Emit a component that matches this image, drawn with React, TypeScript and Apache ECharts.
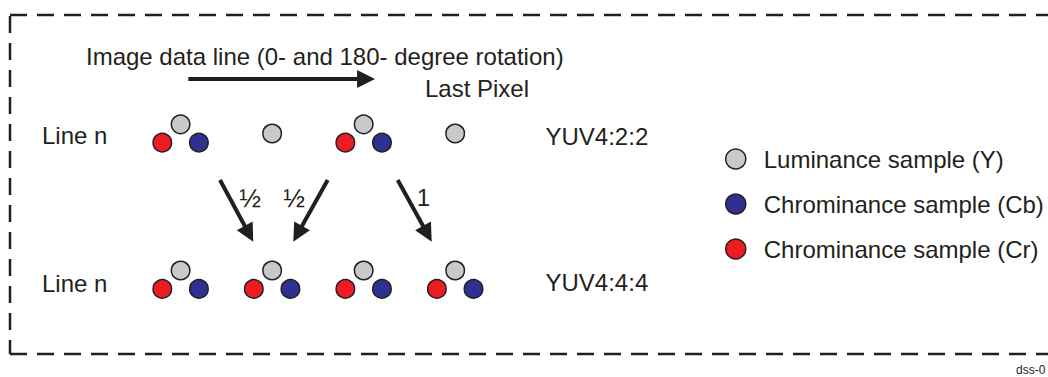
import React, { useEffect, useRef } from "react";
import * as echarts from "echarts";

// ---- data ----
const sampleCols = [0, 1, 2, 3];
const lineRows = [0, 1];
const lineLabels = ["Line n", "Line n"];
const formatLabels = ["YUV4:2:2", "YUV4:4:4"];
// which pixels carry a sample (row 0 = YUV4:2:2 line, row 1 = YUV4:4:4 line)
const lumaPresent = [
  [1, 1, 1, 1],
  [1, 1, 1, 1],
];
const chromaPresent = [
  [1, 0, 1, 0],
  [1, 1, 1, 1],
];
const seriesNames = [
  "Luminance sample (Y)",
  "Chrominance sample (Cb)",
  "Chrominance sample (Cr)",
];
const seriesColors = ["#c8c9cb", "#2e3192", "#ed1c24"];
// arrows in (pixel column, line) units
const arrowFrom = [
  [0.084, -0.373],
  [0.4305, 0.318],
  [1.607, 0.318],
  [2.372, 0.318],
];
const arrowTo = [
  [2.026, -0.373],
  [0.747, 0.686],
  [1.279, 0.686],
  [2.696, 0.686],
];
const weightLabels = ["½", "½", "1"];
const titleText = "Image data line (0- and 180- degree rotation)";
const lastPixelText = "Last Pixel";
const figureId = "dss-0";

const INK = "#231f20";
const FONT = "'Liberation Sans', Arial, Helvetica, sans-serif";

export default function App() {
  const ref = useRef<HTMLDivElement>(null);
  useEffect(() => {
    document.body.style.margin = "0";
    const chart = echarts.init(ref.current!, null, { renderer: "svg" });

    const colPx0 = 180.6;
    const colStep = 91.53;
    const rowPx0 = 133.5;
    const rowStep = 146.2;
    const W = 1048;
    const H = 377;

    const dx = 18.3;
    const dy = 9.2;

    const lumaData: any[] = [];
    const cbData: any[] = [];
    const crData: any[] = [];
    lineRows.forEach((r) => {
      sampleCols.forEach((c) => {
        const hasChroma = chromaPresent[r][c] === 1;
        if (lumaPresent[r][c] === 1) {
          lumaData.push({ value: [c, r], symbolOffset: hasChroma ? [0, -dy] : [0, 0] });
        }
        if (hasChroma) {
          cbData.push({ value: [c, r], symbolOffset: [dx, dy] });
          crData.push({ value: [c, r], symbolOffset: [-dx, dy] });
        }
      });
    });

    const scatterBase = {
      type: "scatter",
      symbol: "circle",
      symbolSize: 18.5,
      silent: true,
    };

    const texts: any[] = [];
    const addText = (
      text: string,
      x: number,
      y: number,
      size: number,
      align: string = "left"
    ) =>
      texts.push({
        type: "text",
        x,
        y,
        silent: true,
        style: {
          text,
          fill: INK,
          fontSize: size,
          fontFamily: FONT,
          align,
          verticalAlign: "middle",
        },
      });

    addText(titleText, 86, 56.5, 24);
    addText(lastPixelText, 425, 88.5, 24);
    lineRows.forEach((r) => {
      const y = r === 0 ? 135.5 : 283;
      addText(lineLabels[r], 42, y, 24);
      addText(formatLabels[r], 545.5, r === 0 ? 136.3 : 282.8, 24);
    });
    addText(weightLabels[0], 250, 197.5, 26, "center");
    addText(weightLabels[1], 294, 197.5, 26, "center");
    addText(weightLabels[2], 423.3, 197.5, 24, "center");
    addText(figureId, 1016, 369.5, 12);

    const dash = { stroke: INK, lineWidth: 2.5, lineDash: [17, 10], fill: "none" };
    const borders = [
      { type: "line", shape: { x1: 10, y1: 15, x2: W + 20, y2: 15 }, style: dash, silent: true },
      { type: "line", shape: { x1: 10, y1: 16, x2: 10, y2: 354 }, style: dash, silent: true },
      { type: "line", shape: { x1: 10, y1: 354, x2: W + 20, y2: 354 }, style: dash, silent: true },
    ];

    chart.setOption({
      animation: false,
      backgroundColor: "#ffffff",
      grid: { left: 0, right: 0, top: 0, bottom: 0 },
      xAxis: {
        type: "value",
        min: -colPx0 / colStep,
        max: (W - colPx0) / colStep,
        show: false,
      },
      yAxis: {
        type: "value",
        inverse: true,
        min: -rowPx0 / rowStep,
        max: (H - rowPx0) / rowStep,
        show: false,
      },
      legend: {
        orient: "vertical",
        left: 720,
        top: 142,
        itemWidth: 20,
        itemHeight: 20,
        itemGap: 21,
        icon: "circle",
        selectedMode: false,
        textStyle: {
          fontSize: 24,
          color: INK,
          fontFamily: FONT,
          padding: [0, 0, 0, 13],
        },
        data: seriesNames.map((n, i) => ({
          name: n,
          itemStyle: { color: seriesColors[i], borderColor: INK, borderWidth: 1.5 },
        })),
      },
      graphic: [...borders, ...texts],
      series: [
        {
          ...scatterBase,
          name: seriesNames[1],
          itemStyle: { color: seriesColors[1], borderColor: INK, borderWidth: 1.5, opacity: 1 },
          data: cbData,
        },
        {
          ...scatterBase,
          name: seriesNames[2],
          itemStyle: { color: seriesColors[2], borderColor: INK, borderWidth: 1.5, opacity: 1 },
          data: crData,
        },
        {
          ...scatterBase,
          name: seriesNames[0],
          itemStyle: { color: seriesColors[0], borderColor: INK, borderWidth: 1.5, opacity: 1 },
          data: lumaData,
        },
        {
          type: "lines",
          coordinateSystem: "cartesian2d",
          silent: true,
          symbol: ["none", "triangle"],
          symbolSize: 18,
          lineStyle: { color: INK, width: 4, opacity: 1, curveness: 0 },
          data: arrowFrom.map((f, i) => ({ coords: [f, arrowTo[i]] })),
        },
      ],
    });
    return () => chart.dispose();
  }, []);
  return (
    <div
      ref={ref}
      style={{ position: "fixed", left: 0, top: 0, width: 1048, height: 377 }}
    />
  );
}
